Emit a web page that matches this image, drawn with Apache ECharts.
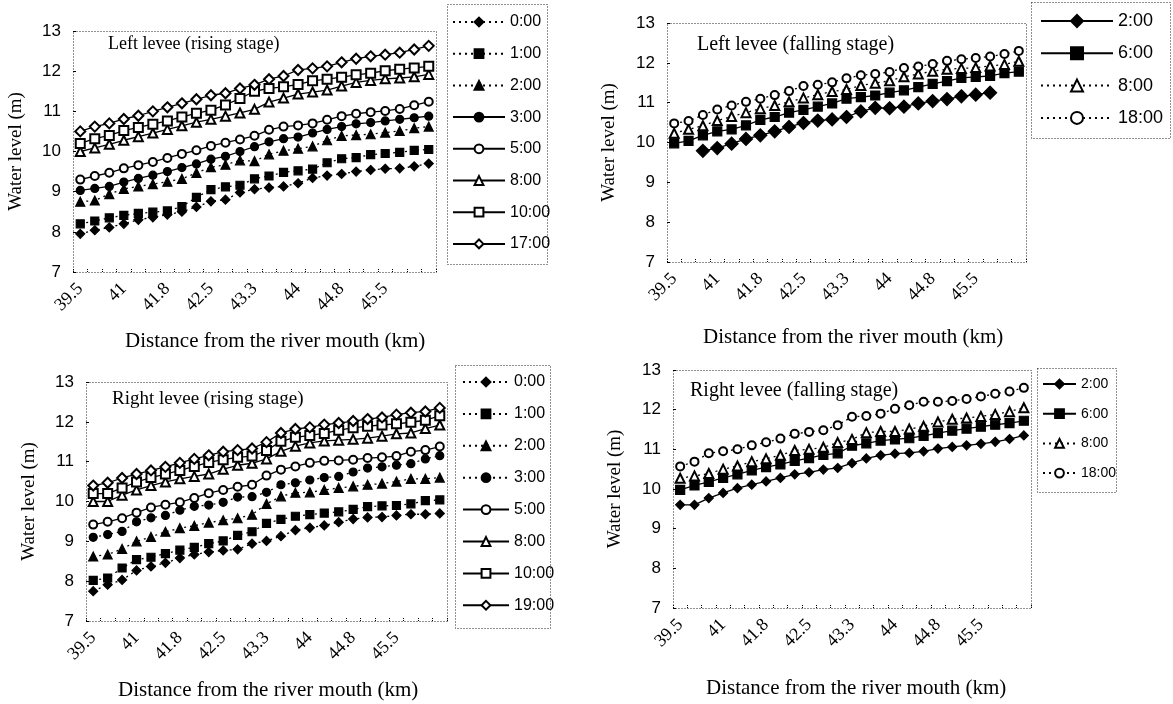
<!DOCTYPE html>
<html>
<head>
<meta charset="utf-8">
<script src="https://cdn.jsdelivr.net/npm/echarts@6/dist/echarts.min.js"></script>
<style>
  html, body { margin: 0; padding: 0; background: #fff; }
  #chart { width: 1173px; height: 704px; }
</style>
</head>
<body>
<div id="chart"></div>
<script>
// 25 survey stations along the river; every third one carries a km label
const stations = Array.from({ length: 25 }, (_, i) => 'S' + (i + 1));
const tickLabels = ['39.5', '41', '41.8', '42.5', '43.3', '44', '44.8', '45.5'];

// Left levee, rising stage
const leftRise0 = [7.95, 8.04, 8.11, 8.2, 8.3, 8.36, 8.43, 8.5, 8.62, 8.76, 8.8, 8.98, 9.06, 9.1, 9.13, 9.21, 9.34, 9.4, 9.44, 9.5, 9.54, 9.57, 9.58, 9.63, 9.7];
const leftRise1 = [8.2, 8.27, 8.35, 8.41, 8.46, 8.49, 8.52, 8.63, 8.86, 9.05, 9.12, 9.16, 9.32, 9.39, 9.48, 9.52, 9.56, 9.72, 9.82, 9.85, 9.92, 9.95, 9.98, 10.03, 10.05];
const leftRise2 = [8.75, 8.78, 8.94, 9.07, 9.13, 9.19, 9.25, 9.32, 9.47, 9.61, 9.67, 9.78, 9.76, 9.93, 10.02, 10.07, 10.13, 10.28, 10.39, 10.41, 10.43, 10.47, 10.51, 10.58, 10.62];
const leftRise3 = [9.03, 9.08, 9.13, 9.24, 9.33, 9.41, 9.5, 9.6, 9.69, 9.81, 9.88, 10.0, 10.12, 10.24, 10.32, 10.36, 10.46, 10.55, 10.62, 10.69, 10.72, 10.76, 10.8, 10.84, 10.88];
const leftRise5 = [9.3, 9.39, 9.47, 9.58, 9.66, 9.74, 9.84, 9.94, 10.03, 10.14, 10.22, 10.3, 10.39, 10.54, 10.62, 10.65, 10.7, 10.79, 10.88, 10.94, 10.98, 11.01, 11.06, 11.15, 11.24];
const leftRise8 = [10.0, 10.09, 10.18, 10.28, 10.37, 10.46, 10.55, 10.64, 10.73, 10.8, 10.88, 10.96, 11.05, 11.23, 11.33, 11.43, 11.48, 11.53, 11.63, 11.72, 11.77, 11.81, 11.83, 11.86, 11.92];
const leftRise10 = [10.2, 10.32, 10.4, 10.52, 10.6, 10.68, 10.76, 10.86, 10.95, 11.03, 11.16, 11.32, 11.5, 11.57, 11.61, 11.67, 11.76, 11.8, 11.85, 11.91, 11.95, 12.01, 12.05, 12.08, 12.12];
const leftRise17 = [10.5, 10.62, 10.7, 10.81, 10.89, 11.0, 11.1, 11.2, 11.3, 11.4, 11.45, 11.57, 11.66, 11.8, 11.88, 12.03, 12.07, 12.12, 12.22, 12.31, 12.37, 12.41, 12.46, 12.54, 12.63];

// Left levee, falling stage
const leftFall2 = [null, null, 9.79, 9.86, 9.97, 10.09, 10.18, 10.28, 10.39, 10.49, 10.55, 10.58, 10.64, 10.78, 10.87, 10.86, 10.9, 10.98, 11.04, 11.09, 11.16, 11.2, 11.25, null, null];
const leftFall6 = [9.98, 10.04, 10.18, 10.28, 10.33, 10.43, 10.57, 10.64, 10.75, 10.82, 10.9, 10.98, 11.1, 11.14, 11.18, 11.25, 11.31, 11.39, 11.47, 11.54, 11.62, 11.65, 11.67, 11.74, 11.78];
const leftFall8 = [10.23, 10.33, 10.42, 10.55, 10.65, 10.75, 10.85, 10.93, 11.02, 11.12, 11.2, 11.28, 11.33, 11.43, 11.49, 11.55, 11.65, 11.72, 11.79, 11.84, 11.86, 11.88, 11.92, 11.96, 12.04];
const leftFall18 = [10.48, 10.54, 10.69, 10.83, 10.93, 11.02, 11.1, 11.19, 11.29, 11.42, 11.45, 11.51, 11.61, 11.69, 11.72, 11.77, 11.87, 11.91, 11.97, 12.05, 12.09, 12.12, 12.16, 12.22, 12.3];

// Right levee, rising stage
const rightRise0 = [7.75, 7.91, 8.03, 8.27, 8.37, 8.46, 8.58, 8.67, 8.73, 8.77, 8.8, 8.94, 9.01, 9.13, 9.28, 9.34, 9.4, 9.48, 9.56, 9.6, 9.61, 9.65, 9.68, 9.68, 9.7];
const rightRise1 = [8.02, 8.08, 8.33, 8.54, 8.6, 8.69, 8.78, 8.85, 8.94, 9.01, 9.15, 9.24, 9.45, 9.55, 9.63, 9.67, 9.71, 9.74, 9.8, 9.87, 9.89, 9.9, 9.94, 10.02, 10.04];
const rightRise2 = [8.62, 8.67, 8.81, 9.0, 9.11, 9.24, 9.33, 9.39, 9.47, 9.53, 9.58, 9.67, 9.94, 10.13, 10.22, 10.23, 10.29, 10.34, 10.38, 10.42, 10.45, 10.5, 10.57, 10.57, 10.6];
const rightRise3 = [9.1, 9.17, 9.25, 9.49, 9.59, 9.65, 9.78, 9.88, 9.91, 9.98, 10.11, 10.12, 10.23, 10.42, 10.47, 10.54, 10.6, 10.63, 10.74, 10.84, 10.87, 10.91, 10.95, 11.07, 11.15];
const rightRise5 = [9.42, 9.49, 9.58, 9.72, 9.85, 9.92, 9.98, 10.09, 10.21, 10.29, 10.37, 10.42, 10.65, 10.8, 10.88, 10.97, 11.02, 11.03, 11.05, 11.09, 11.11, 11.14, 11.25, 11.29, 11.38];
const rightRise8 = [10.0, 10.0, 10.16, 10.29, 10.4, 10.49, 10.57, 10.63, 10.69, 10.81, 10.91, 10.96, 11.07, 11.26, 11.39, 11.47, 11.52, 11.54, 11.56, 11.59, 11.64, 11.7, 11.72, 11.83, 11.92];
const rightRise10 = [10.2, 10.2, 10.34, 10.49, 10.6, 10.69, 10.78, 10.88, 10.98, 11.05, 11.11, 11.14, 11.28, 11.51, 11.61, 11.66, 11.71, 11.79, 11.85, 11.89, 11.92, 11.95, 11.99, 12.04, 12.15];
const rightRise19 = [10.4, 10.47, 10.59, 10.69, 10.78, 10.87, 10.97, 11.07, 11.16, 11.25, 11.29, 11.33, 11.49, 11.72, 11.82, 11.86, 11.93, 11.97, 12.02, 12.07, 12.11, 12.18, 12.23, 12.26, 12.35];

// Right levee, falling stage
const rightFall2 = [9.6, 9.6, 9.77, 9.9, 10.02, 10.11, 10.19, 10.28, 10.37, 10.42, 10.49, 10.53, 10.65, 10.77, 10.85, 10.89, 10.91, 10.95, 11.02, 11.06, 11.1, 11.14, 11.19, 11.26, 11.35];
const rightFall6 = [9.98, 10.09, 10.18, 10.28, 10.37, 10.47, 10.55, 10.62, 10.71, 10.78, 10.86, 10.9, 11.09, 11.15, 11.22, 11.25, 11.28, 11.34, 11.41, 11.47, 11.52, 11.57, 11.62, 11.66, 11.72];
const rightFall8 = [10.27, 10.33, 10.39, 10.5, 10.58, 10.69, 10.76, 10.85, 10.97, 11.0, 11.05, 11.17, 11.25, 11.42, 11.45, 11.45, 11.51, 11.58, 11.69, 11.76, 11.79, 11.83, 11.88, 11.95, 12.05];
const rightFall18 = [10.57, 10.69, 10.9, 10.95, 11.0, 11.1, 11.18, 11.27, 11.39, 11.44, 11.48, 11.61, 11.82, 11.84, 11.9, 12.02, 12.11, 12.2, 12.2, 12.22, 12.27, 12.33, 12.4, 12.46, 12.55];

const serif = 'Liberation Serif';
const sans = 'Liberation Sans';

// grid boxes in px: [left, top, width, height]
const boxes = [
  [73, 31, 363, 241],
  [667, 23, 359, 239],
  [86, 382, 361, 239],
  [673, 370, 358, 238]
];

// legend names are prefixed with the panel letter so each panel keeps its own icon
function line(name, data, gi, symbol, dotted, size) {
  return {
    name: name,
    type: 'line',
    xAxisIndex: gi,
    yAxisIndex: gi,
    data: data,
    symbol: symbol,
    symbolSize: size || 8,
    showAllSymbol: true,
    animation: false,
    lineStyle: { color: '#000', width: 1.3, type: dotted ? [2, 4] : 'solid' },
    itemStyle: { color: '#000', borderColor: '#000', borderWidth: 1.2 }
  };
}

const series = [
  line('A 0:00', leftRise0, 0, 'diamond', true, 9),
  line('A 1:00', leftRise1, 0, 'rect', true, 8),
  line('A 2:00', leftRise2, 0, 'triangle', true, 9),
  line('A 3:00', leftRise3, 0, 'circle', false, 8),
  line('A 5:00', leftRise5, 0, 'emptyCircle', false, 8),
  line('A 8:00', leftRise8, 0, 'emptyTriangle', false, 9),
  line('A 10:00', leftRise10, 0, 'emptyRect', false, 9),
  line('A 17:00', leftRise17, 0, 'emptyDiamond', false, 10),

  line('B 2:00', leftFall2, 1, 'diamond', false, 13),
  line('B 6:00', leftFall6, 1, 'rect', false, 9),
  line('B 8:00', leftFall8, 1, 'emptyTriangle', true, 9),
  line('B 18:00', leftFall18, 1, 'emptyCircle', true, 8),

  line('C 0:00', rightRise0, 2, 'diamond', true, 9),
  line('C 1:00', rightRise1, 2, 'rect', true, 8),
  line('C 2:00', rightRise2, 2, 'triangle', true, 9),
  line('C 3:00', rightRise3, 2, 'circle', true, 8),
  line('C 5:00', rightRise5, 2, 'emptyCircle', false, 8),
  line('C 8:00', rightRise8, 2, 'emptyTriangle', false, 9),
  line('C 10:00', rightRise10, 2, 'emptyRect', false, 9),
  line('C 19:00', rightRise19, 2, 'emptyDiamond', false, 10),

  line('D 2:00', rightFall2, 3, 'diamond', false, 9),
  line('D 6:00', rightFall6, 3, 'rect', false, 9),
  line('D 8:00', rightFall8, 3, 'emptyTriangle', true, 9),
  line('D 18:00', rightFall18, 3, 'emptyCircle', true, 8)
];

function legendFor(prefix, left, top, itemWidth, itemHeight, fontSize, gap) {
  return {
    data: series.filter(s => s.name[0] === prefix).map(s => s.name),
    orient: 'vertical',
    left: left,
    top: top,
    itemWidth: itemWidth,
    itemHeight: itemHeight,
    itemGap: gap,
    selectedMode: false,
    padding: 0,
    formatter: n => n.slice(2),
    textStyle: { fontFamily: sans, fontSize: fontSize, color: '#000', lineHeight: fontSize }
  };
}

const grids = boxes.map(b => ({ left: b[0], top: b[1], width: b[2], height: b[3] }));

const xAxes = boxes.map((b, i) => ({
  type: 'category',
  gridIndex: i,
  data: stations,
  boundaryGap: true,
  axisLine: { show: false },
  axisTick: { show: true, inside: true, length: 3, interval: 0, lineStyle: { color: '#000', type: 'dotted' } },
  axisLabel: {
    interval: 2, rotate: 45, margin: 14, fontFamily: serif, fontSize: 18, color: '#000',
    formatter: (v, idx) => tickLabels[idx / 3] || ''
  },
  splitLine: { show: false }
}));

const yAxes = boxes.map((b, i) => ({
  type: 'value',
  gridIndex: i,
  min: 7,
  max: 13,
  interval: 1,
  name: 'Water level (m)',
  nameLocation: 'middle',
  nameGap: i % 2 === 0 ? 47 : 48,
  nameTextStyle: { fontFamily: serif, fontSize: 19, color: '#000' },
  axisLine: { show: false },
  axisTick: { show: true, inside: true, length: 3, lineStyle: { color: '#000' } },
  axisLabel: { margin: 12, fontFamily: sans, fontSize: 17, color: '#000' },
  splitLine: { show: false }
}));

const titleStyle = size => ({ fontFamily: serif, fontSize: size, fontWeight: 'normal', color: '#000' });
const axisTitleStyle = { fontFamily: serif, fontSize: 21, fontWeight: 'normal', color: '#000' };

const titles = [
  { text: 'Left levee (rising stage)', left: 108, top: 35, textStyle: titleStyle(18) },
  { text: 'Left levee (falling stage)', left: 697, top: 35, textStyle: titleStyle(20) },
  { text: 'Right levee (rising stage)', left: 112, top: 390, textStyle: titleStyle(19) },
  { text: 'Right levee (falling stage)', left: 690, top: 381, textStyle: titleStyle(20) },
  { text: 'Distance from the river mouth (km)', left: 125, top: 331, textStyle: axisTitleStyle },
  { text: 'Distance from the river mouth (km)', left: 703, top: 327, textStyle: axisTitleStyle },
  { text: 'Distance from the river mouth (km)', left: 118, top: 680, textStyle: axisTitleStyle },
  { text: 'Distance from the river mouth (km)', left: 706, top: 678, textStyle: axisTitleStyle }
].map(t => Object.assign({ padding: 0 }, t));

// dotted frames round the plot areas and the legends
const frames = boxes.concat([
  [447, 4, 100, 260],
  [1031, 2, 139, 136],
  [455, 365, 95, 263],
  [1037, 368, 79, 124]
]).map(b => ({
  type: 'rect',
  shape: { x: b[0] + 0.5, y: b[1] + 0.5, width: b[2], height: b[3] },
  style: { fill: null, stroke: '#222', lineWidth: 1, lineDash: [1, 2] },
  silent: true
}));

const chart = echarts.init(document.getElementById('chart'));
chart.setOption({
  backgroundColor: '#fff',
  animation: false,
  title: titles,
  legend: [
    legendFor('A', 452, 14, 52, 11, 16, 15.7),
    legendFor('B', 1040, 12, 72, 15, 18, 14.3),
    legendFor('C', 462, 374, 46, 11, 16, 15.9),
    legendFor('D', 1042, 377, 33, 11, 14, 15.7)
  ],
  grid: grids,
  xAxis: xAxes,
  yAxis: yAxes,
  series: series,
  graphic: frames
});
</script>
</body>
</html>
